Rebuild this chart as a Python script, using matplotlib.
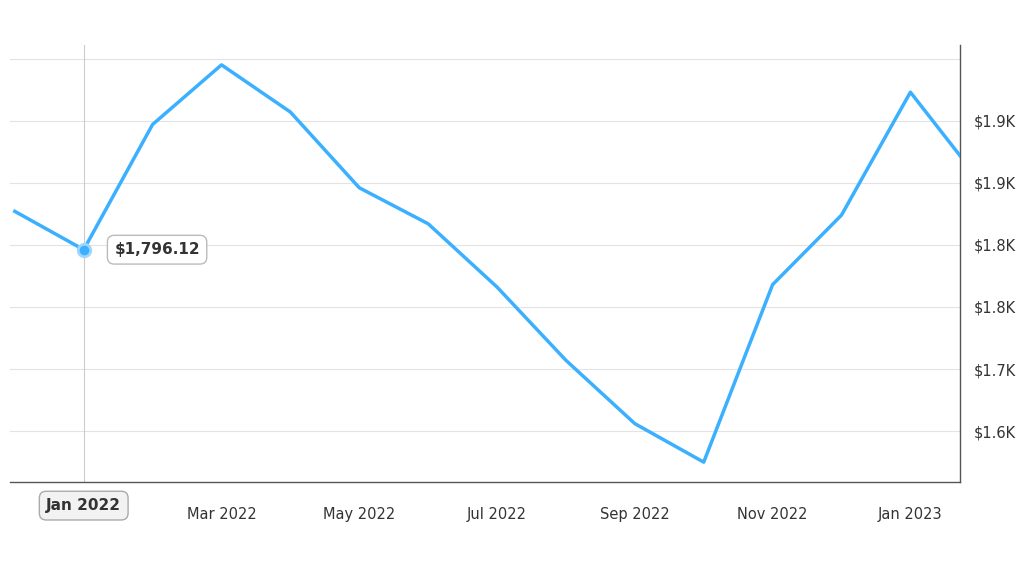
import matplotlib
matplotlib.use("Agg")
import matplotlib.pyplot as plt

months = ["Dec 2021","Jan 2022","Feb 2022","Mar 2022","Apr 2022","May 2022","Jun 2022","Jul 2022",
          "Aug 2022","Sep 2022","Oct 2022","Nov 2022","Dec 2022","Jan 2023","Feb 2023"]
values = [1827, 1796.12, 1897, 1945, 1907, 1846, 1817, 1766, 1707, 1656, 1625, 1768, 1824, 1923, 1852]
ytick_vals = [1650, 1700, 1750, 1800, 1850, 1900, 1950]
ytick_labels = ["$1.6K", "$1.7K", "$1.8K", "$1.8K", "$1.9K", "$1.9K", ""]
xtick_idx = [3, 5, 7, 9, 11, 13]
xtick_labels = [months[i] for i in xtick_idx]

fig = plt.figure(figsize=(10.24, 5.72), dpi=100)
ax = fig.add_axes([10/1024, 1-482/572, 950/1024, 437/572])
x = list(range(len(values)))
ax.plot(x, values, color="#3bb0ff", lw=2.5, zorder=3, clip_on=True)
ax.set_xlim(-0.07, 13.72)
ax.set_ylim(1609, 1961)
ax.yaxis.tick_right()
ax.set_yticks(ytick_vals)
ax.set_yticklabels(ytick_labels)
ax.set_xticks(xtick_idx)
ax.set_xticklabels(xtick_labels)
ax.tick_params(axis="both", length=0, labelsize=10.5, colors="#333333", pad=10)
ax.tick_params(axis="x", pad=18)
for s in ["top", "left"]:
    ax.spines[s].set_visible(False)
for s in ["right", "bottom"]:
    ax.spines[s].set_color("#555555")
    ax.spines[s].set_linewidth(1)
ax.grid(axis="y", color="#e3e3e3", lw=0.8)
ax.set_axisbelow(True)

# hover marker
ax.axvline(1, color="#cccccc", lw=0.8, zorder=2)
ax.plot([1], [values[1]], "o", color="#3bb0ff", ms=9, mec="#9fd6ff", mew=2, zorder=4)
ax.annotate(f"${values[1]:,.2f}", (1, values[1]), xytext=(22, 0), textcoords="offset points",
            va="center", ha="left", fontsize=11, fontweight="bold", color="#333333",
            bbox=dict(boxstyle="round,pad=0.45", fc="white", ec="#bbbbbb"), zorder=5)
ax.annotate(months[1], (1, 1609), xytext=(0, -17), textcoords="offset points",
            va="center", ha="center", fontsize=11, fontweight="bold", color="#333333",
            bbox=dict(boxstyle="round,pad=0.45", fc="#f2f2f2", ec="#aaaaaa"), zorder=5,
            annotation_clip=False)
fig.savefig("out.png", dpi=100, facecolor="white")
